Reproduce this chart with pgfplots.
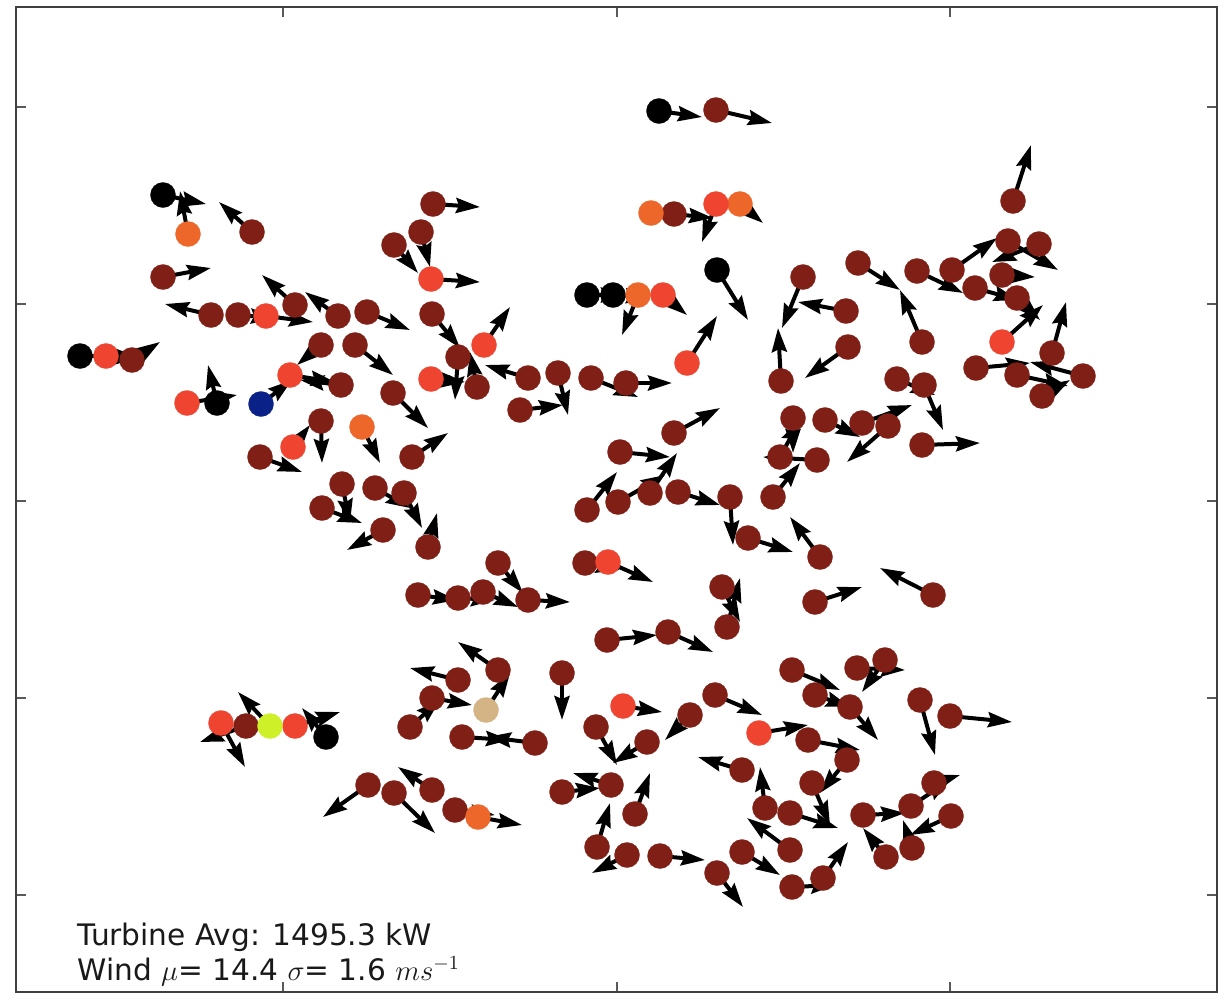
\documentclass[border=0pt]{standalone}
\usepackage{fontspec}
\setmainfont{DejaVu Sans}
\usepackage{pgfplots}
\pgfplotsset{compat=1.18}
\usetikzlibrary{arrows.meta}
\definecolor{dr}{RGB}{127,31,21}
\definecolor{rd}{RGB}{238,68,48}
\definecolor{org}{RGB}{237,102,42}
\definecolor{blu}{RGB}{10,34,136}
\definecolor{ygr}{RGB}{205,240,40}
\definecolor{tan}{RGB}{212,180,132}
\pgfplotsset{turb/.style={color=#1, only marks, mark=*, mark size=6.3pt, mark options={solid, draw=#1, fill=#1, line width=0.1pt}}}
\begin{document}
\begin{tikzpicture}
\begin{axis}[
 scale only axis, width=600.5pt, height=492.5pt,
 xmin=16, xmax=1217, ymin=7, ymax=992, y dir=reverse,
 xtick={283,617,950}, ytick={107,304,501,698,895},
 xticklabels={}, yticklabels={},
 tick align=inside, major tick length=5pt,
 every tick/.style={black!65, line width=0.6pt},
 axis line style={black!75, line width=1.3pt},
 clip=false,
]
\addplot[black, line width=2pt, -{Stealth[length=12pt,width=7.5pt,inset=1.5pt]},
  quiver={u=\thisrow{u},v=\thisrow{v}}] table[x=x,y=y] {
x y u v
659 111 43 6
716 110 56 13
651 213 39 2
674 214 39 4
716 204 -14 38
740 204 23 19
433 204 47 3
421 232 9 35
394 245 24 28
431 279 49 3
432 314 28 34
484 345 26 -38
587 295 38 0
613 295 37 2
638 295 -16 40
663 295 24 20
717 270 31 50
803 277 -21 51
846 311 -48 -9
687 363 30 -47
163 195 43 9
188 234 -8 -43
252 232 -33 -30
163 277 48 -9
211 315 -46 -11
238 315 37 3
266 316 47 6
295 305 -33 -30
338 316 -33 -24
367 312 43 18
1013 201 18 -56
1008 241 50 29
1039 244 -47 18
858 263 42 27
917 271 46 22
952 270 45 -32
975 288 43 12
1002 275 33 2
1017 298 23 22
922 342 -22 -52
1002 342 41 -37
1052 353 14 -51
976 368 54 -5
1083 376 -53 -14
1017 375 51 11
1042 396 28 -16
897 379 38 16
924 385 19 45
848 347 -43 31
781 381 -3 -53
80 356 40 0
106 356 34 2
132 360 28 -18
187 403 50 -8
217 403 -9 -38
261 404 31 -24
290 375 45 7
341 385 -41 -5
321 345 -24 20
355 345 38 30
393 393 35 35
321 421 1 42
293 447 17 -22
260 457 42 15
362 427 18 36
342 484 8 39
375 488 35 20
322 508 40 15
383 530 -36 20
404 493 18 35
412 457 36 -24
428 547 9 -34
458 357 -3 43
431 379 34 3
477 387 -7 -35
528 378 -43 -13
558 373 10 42
520 410 43 -5
591 378 47 19
626 383 46 0
674 433 46 -25
620 452 50 5
587 510 30 -38
618 502 47 -27
650 493 27 -40
678 492 42 13
730 497 3 48
793 418 0 35
780 457 20 -37
817 460 -54 -3
773 497 27 -34
825 420 35 17
862 423 50 -18
888 426 -41 36
922 445 58 -2
748 538 45 14
820 557 -30 -40
585 563 35 7
608 562 45 20
498 563 25 30
418 595 39 5
458 598 37 2
483 592 35 15
528 600 42 2
722 587 18 35
727 627 13 -49
815 602 47 -15
933 595 -53 -27
607 640 50 -5
668 632 45 20
221 723 24 44
246 726 -46 16
270 726 -32 -34
295 726 45 -14
326 737 -24 -29
368 785 -45 32
394 793 41 40
458 680 -48 -12
498 670 -40 -28
432 698 40 7
486 710 24 -37
410 727 30 -27
462 737 48 3
535 743 -48 -6
562 673 0 47
623 706 39 6
596 727 21 38
647 742 -34 21
690 715 -25 25
715 695 47 20
759 733 49 -8
808 740 52 10
432 790 -34 -23
455 810 40 5
478 817 44 8
562 792 38 -4
611 785 -38 -12
635 814 15 -41
597 847 13 -44
627 855 -35 18
660 856 45 4
717 873 26 34
742 770 -44 -13
765 808 -5 -41
790 813 48 15
790 850 -43 -32
742 852 38 23
792 887 43 -2
823 878 25 -36
792 670 48 20
815 695 35 12
850 707 28 33
857 668 48 2
885 660 -23 32
920 700 15 55
950 716 62 6
847 760 -27 33
812 783 18 42
863 815 42 -2
911 806 39 -26
934 783 26 -8
951 816 -41 19
912 848 -9 -28
886 857 -23 -29
};
\addplot[turb=dr] table {
x y
716 110
674 214
433 204
421 232
394 245
432 314
803 277
846 311
252 232
163 277
211 315
238 315
295 305
338 316
367 312
1013 201
1008 241
1039 244
858 263
917 271
952 270
975 288
1002 275
1017 298
922 342
1052 353
976 368
1083 376
1017 375
1042 396
897 379
924 385
848 347
781 381
132 360
341 385
321 345
355 345
393 393
321 421
260 457
342 484
375 488
322 508
383 530
404 493
412 457
428 547
458 357
477 387
528 378
558 373
520 410
591 378
626 383
674 433
620 452
587 510
618 502
650 493
678 492
730 497
793 418
780 457
817 460
773 497
825 420
862 423
888 426
922 445
748 538
820 557
585 563
498 563
418 595
458 598
483 592
528 600
722 587
727 627
815 602
933 595
607 640
668 632
246 726
368 785
394 793
458 680
498 670
432 698
410 727
462 737
535 743
562 673
596 727
647 742
690 715
715 695
808 740
432 790
455 810
562 792
611 785
635 814
597 847
627 855
660 856
717 873
742 770
765 808
790 813
790 850
742 852
792 887
823 878
792 670
815 695
850 707
857 668
885 660
920 700
950 716
847 760
812 783
863 815
911 806
934 783
951 816
912 848
886 857
};
\addplot[turb=black] table {
x y
659 111
587 295
613 295
717 270
163 195
80 356
217 403
326 737
};
\addplot[turb=org] table {
x y
651 213
740 204
638 295
188 234
362 427
478 817
};
\addplot[turb=rd] table {
x y
716 204
431 279
484 345
663 295
687 363
266 316
1002 342
106 356
187 403
290 375
293 447
431 379
608 562
221 723
295 726
623 706
759 733
};
\addplot[turb=blu] table {
x y
261 404
};
\addplot[turb=ygr] table {
x y
270 726
};
\addplot[turb=tan] table {
x y
486 710
};
\node[anchor=base west, inner sep=0pt, text=black!90, font=\fontsize{14.8pt}{17pt}\selectfont] at (axis cs:77,945) {Turbine Avg: 1495.3 kW};
\node[anchor=base west, inner sep=0pt, text=black!90, font=\fontsize{14.8pt}{17pt}\selectfont] at (axis cs:77,980) {Wind $\mu$= 14.4 $\sigma$= 1.6 $ms^{-1}$};
\end{axis}
\path ([shift={(-8pt,-1pt)}]current axis.south west) rectangle ([shift={(4.5pt,3.5pt)}]current axis.north east);
\end{tikzpicture}
\end{document}
